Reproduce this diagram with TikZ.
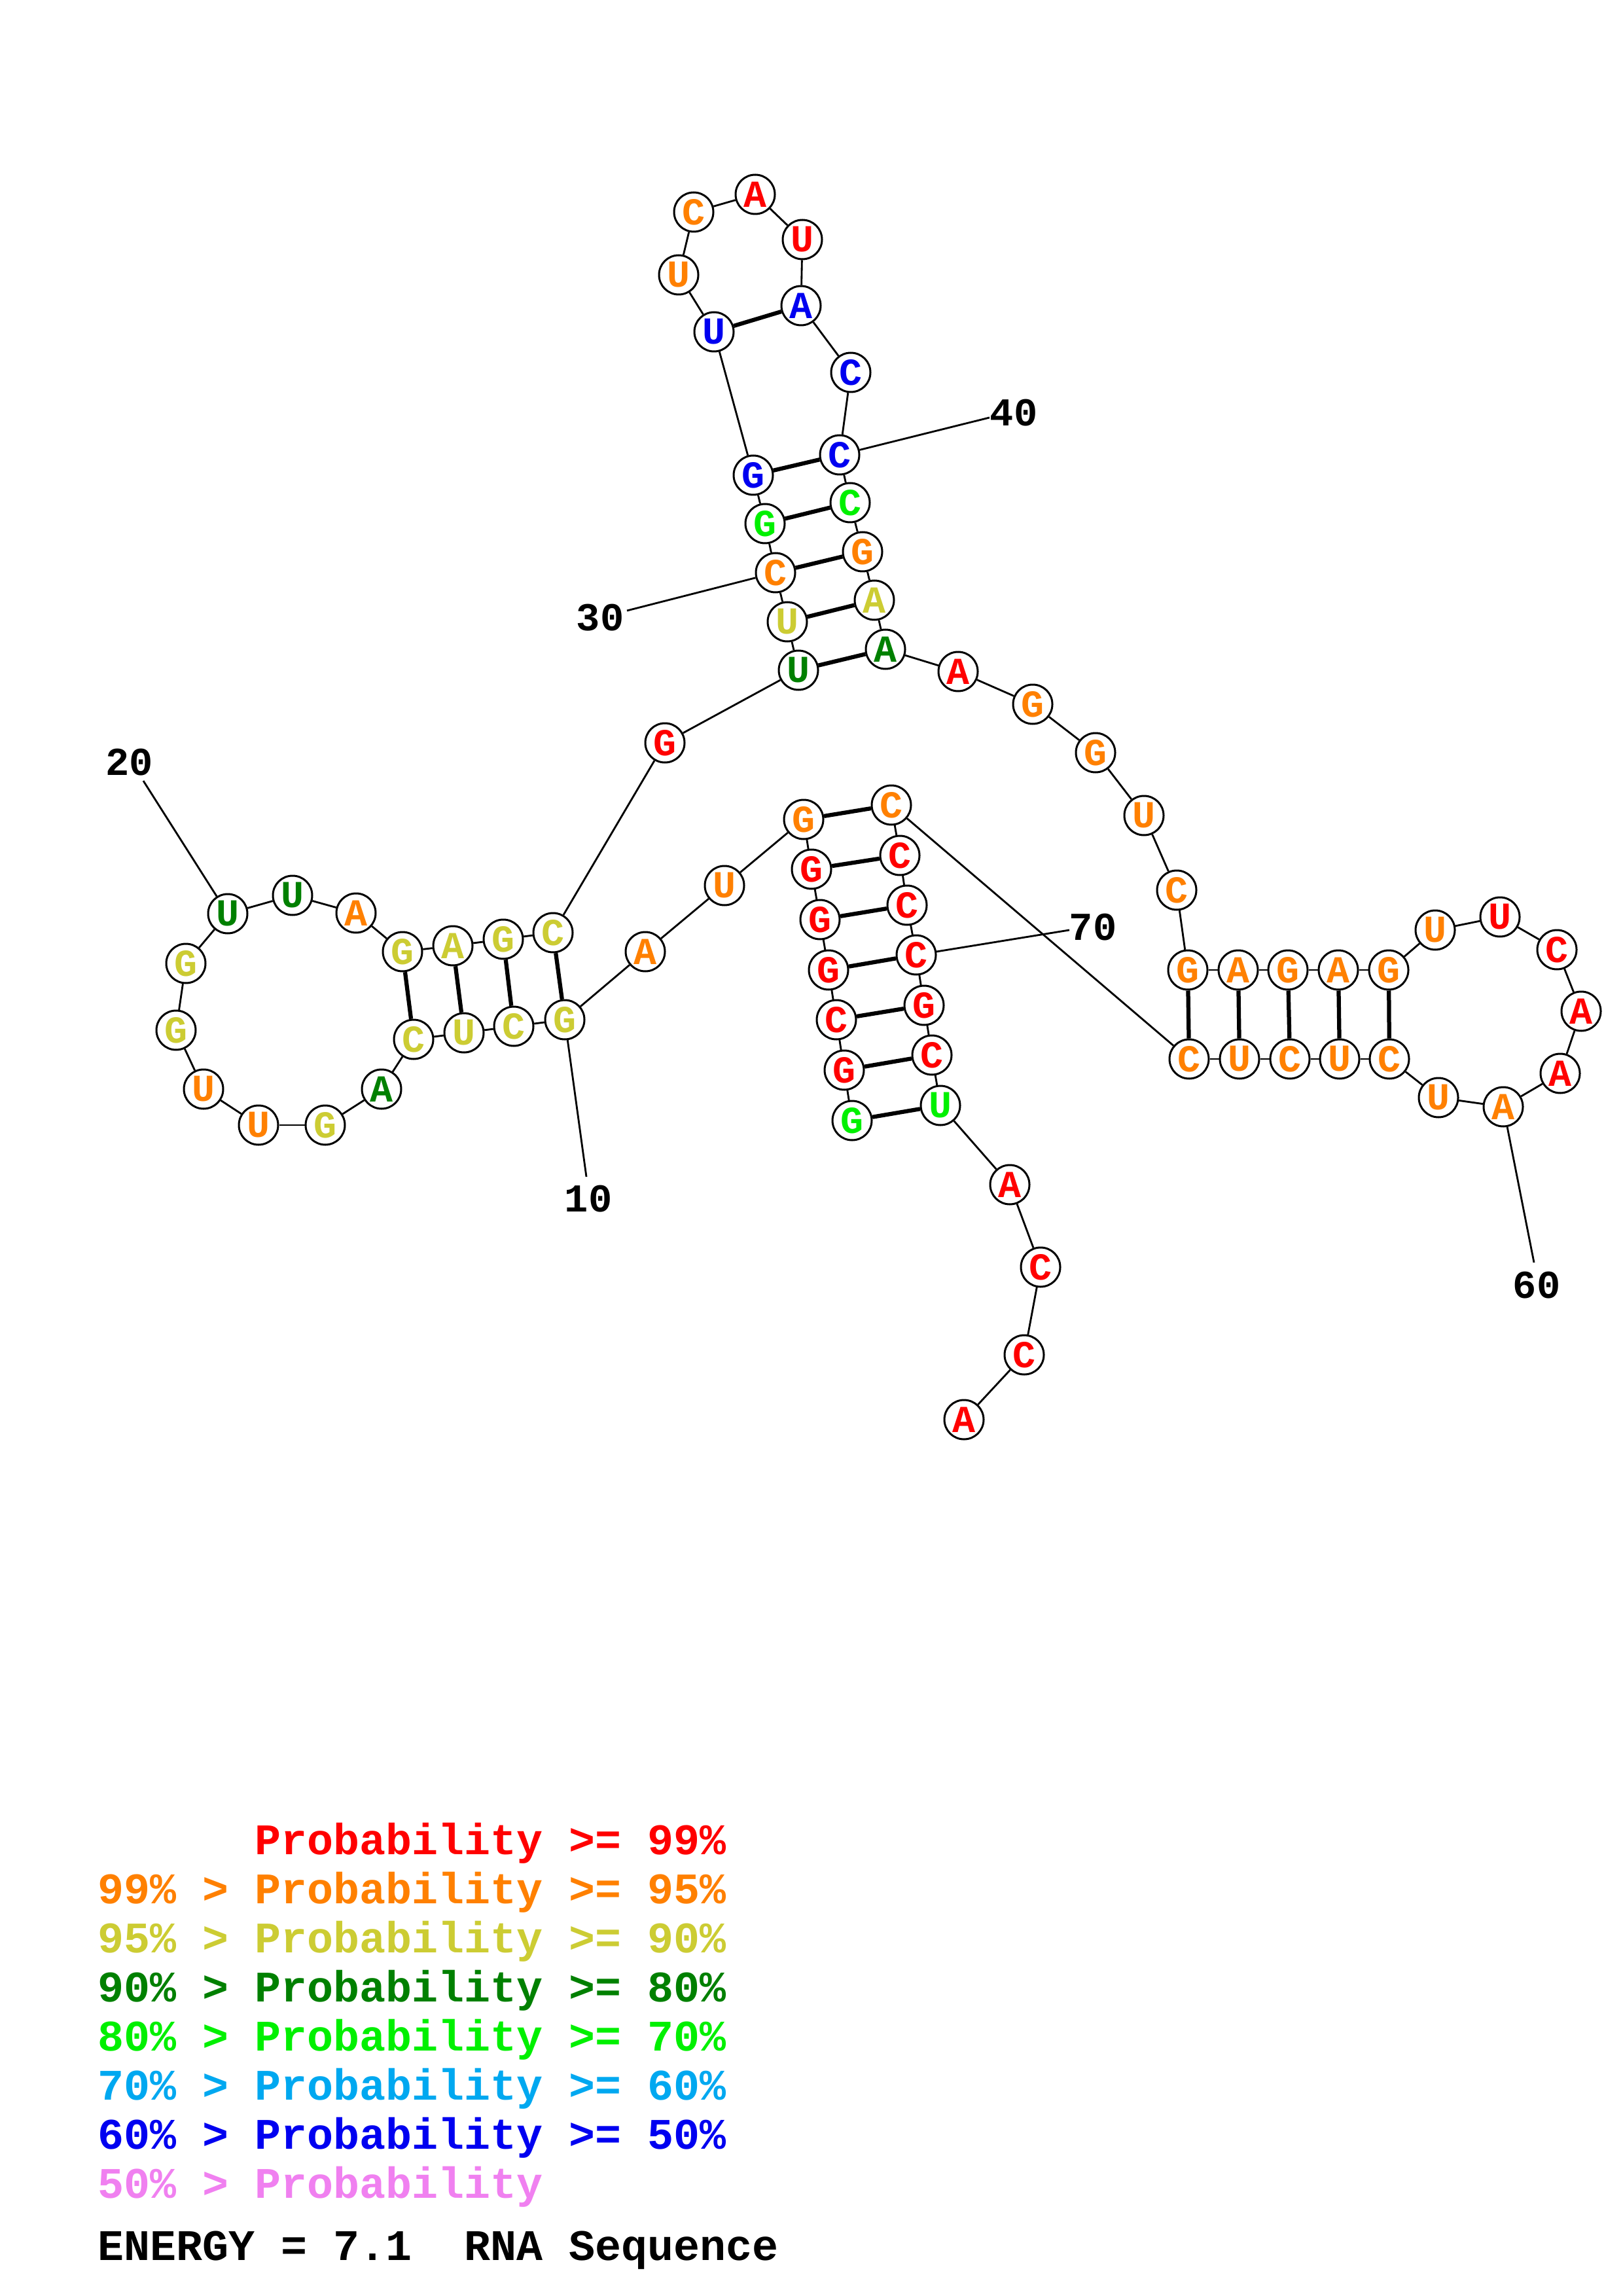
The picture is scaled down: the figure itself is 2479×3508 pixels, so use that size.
\documentclass[tikz,border=0pt]{standalone}
\usepackage{fontspec}
\setmonofont{Liberation Mono}
\definecolor{cr}{RGB}{255,0,0}
\definecolor{co}{RGB}{255,128,0}
\definecolor{cy}{RGB}{204,204,51}
\definecolor{cdg}{RGB}{0,128,0}
\definecolor{clg}{RGB}{0,240,0}
\definecolor{clb}{RGB}{0,168,240}
\definecolor{cb}{RGB}{0,0,240}
\definecolor{cp}{RGB}{240,128,240}
\newcommand\nuc[5]{\node[nt,text=#5] (n#1) at (#2,#3) {#4};}
\begin{document}
\begin{tikzpicture}[x=0.24pt,y=-0.24pt,
  nt/.style={circle,draw,line width=0.72pt,fill=white,minimum size=14.4pt,inner sep=0pt,font=\ttfamily\bfseries\fontsize{14}{14}\selectfont},
  bb/.style={line width=0.68pt},
  bond/.style={line width=1.5pt},
  num/.style={font=\ttfamily\bfseries\fontsize{14.5}{15}\selectfont,inner sep=0pt},
  leg/.style={anchor=base west,inner sep=0pt,font=\ttfamily\bfseries\fontsize{16}{16}\selectfont}]
\path[use as bounding box,fill=white] (0,0) rectangle (2479,3508);
\frenchspacing
% nucleotides
\nuc{1}{1302}{1712}{G}{clg}
\nuc{2}{1290}{1635}{G}{cr}
\nuc{3}{1278}{1558}{C}{cr}
\nuc{4}{1266}{1482}{G}{cr}
\nuc{5}{1253}{1405}{G}{cr}
\nuc{6}{1240}{1328}{G}{cr}
\nuc{7}{1228}{1252}{G}{co}
\nuc{8}{1107}{1353}{U}{co}
\nuc{9}{986}{1454}{A}{co}
\nuc{10}{863}{1558}{G}{cy}
\nuc{11}{785}{1568}{C}{cy}
\nuc{12}{709}{1578}{U}{cy}
\nuc{13}{632}{1588}{C}{cy}
\nuc{14}{583}{1664}{A}{cdg}
\nuc{15}{497}{1719}{G}{cy}
\nuc{16}{395}{1719}{U}{co}
\nuc{17}{311}{1664}{U}{co}
\nuc{18}{269}{1574}{G}{cy}
\nuc{19}{284}{1472}{G}{cy}
\nuc{20}{348}{1396}{U}{cdg}
\nuc{21}{447}{1368}{U}{cdg}
\nuc{22}{544}{1395}{A}{co}
\nuc{23}{615}{1454}{G}{cy}
\nuc{24}{692}{1445}{A}{cy}
\nuc{25}{769}{1435}{G}{cy}
\nuc{26}{845}{1425}{C}{cy}
\nuc{27}{1016}{1135}{G}{cr}
\nuc{28}{1220}{1024}{U}{cdg}
\nuc{29}{1203}{950}{U}{cy}
\nuc{30}{1185}{875}{C}{co}
\nuc{31}{1169}{800}{G}{clg}
\nuc{32}{1151}{726}{G}{cb}
\nuc{33}{1091}{507}{U}{cb}
\nuc{34}{1037}{420}{U}{co}
\nuc{35}{1060}{324}{C}{co}
\nuc{36}{1154}{297}{A}{cr}
\nuc{37}{1226}{366}{U}{cr}
\nuc{38}{1224}{467}{A}{cb}
\nuc{39}{1300}{569}{C}{cb}
\nuc{40}{1283}{695}{C}{cb}
\nuc{41}{1299}{768}{C}{clg}
\nuc{42}{1318}{843}{G}{co}
\nuc{43}{1336}{917}{A}{cy}
\nuc{44}{1353}{992}{A}{cdg}
\nuc{45}{1464}{1026}{A}{cr}
\nuc{46}{1578}{1076}{G}{co}
\nuc{47}{1674}{1150}{G}{co}
\nuc{48}{1748}{1246}{U}{co}
\nuc{49}{1798}{1360}{C}{co}
\nuc{50}{1815}{1482}{G}{co}
\nuc{51}{1892}{1482}{A}{co}
\nuc{52}{1968}{1482}{G}{co}
\nuc{53}{2045}{1482}{A}{co}
\nuc{54}{2122}{1482}{G}{co}
\nuc{55}{2193}{1421}{U}{co}
\nuc{56}{2292}{1401}{U}{cr}
\nuc{57}{2379}{1451}{C}{cr}
\nuc{58}{2416}{1545}{A}{cr}
\nuc{59}{2384}{1640}{A}{cr}
\nuc{60}{2297}{1691}{A}{co}
\nuc{61}{2198}{1677}{U}{co}
\nuc{62}{2123}{1618}{C}{co}
\nuc{63}{2047}{1618}{U}{co}
\nuc{64}{1971}{1618}{C}{co}
\nuc{65}{1894}{1618}{U}{co}
\nuc{66}{1817}{1618}{C}{co}
\nuc{67}{1362}{1230}{C}{co}
\nuc{68}{1375}{1307}{C}{cr}
\nuc{69}{1386}{1383}{C}{cr}
\nuc{70}{1400}{1459}{C}{cr}
\nuc{71}{1412}{1536}{G}{cr}
\nuc{72}{1424}{1612}{C}{cr}
\nuc{73}{1437}{1689}{U}{clg}
\nuc{74}{1543}{1810}{A}{cr}
\nuc{75}{1590}{1936}{C}{cr}
\nuc{76}{1565}{2070}{C}{cr}
\nuc{77}{1473}{2169}{A}{cr}
% backbone
\foreach \i in {1,...,76}{
  \pgfmathtruncatemacro\j{\i+1}
  \draw[bb] (n\i) -- (n\j);
}
% base pairs
\foreach \a/\b in {1/73,2/72,3/71,4/70,5/69,6/68,7/67,10/26,11/25,12/24,13/23,28/44,29/43,30/42,31/41,32/40,33/38,50/66,51/65,52/64,53/63,54/62}{
  \draw[bond] (n\a) -- (n\b);
}
% number labels
\coordinate (e10) at (896,1798);
\coordinate (e20) at (219,1193);
\coordinate (e30) at (958,933);
\coordinate (e40) at (1512,638);
\coordinate (e60) at (2344,1929);
\coordinate (e70) at (1634,1421);
\foreach \k in {10,20,30,40,60,70}{\draw[bb] (n\k) -- (e\k);}
\node[num] (l10) at (899,1832) {10};
\node[num] (l20) at (198,1165) {20};
\node[num] (l30) at (917,944) {30};
\node[num] (l40) at (1549,631) {40};
\node[num] (l60) at (2348,1964) {60};
\node[num] (l70) at (1670,1417) {70};
% legend
\node[leg,text=cr] (g1) at (389,2833) {Probability~>=~99\%};
\node[leg,text=co] (g2) at (149,2908) {99\%~>~Probability~>=~95\%};
\node[leg,text=cy] (g3) at (149,2983) {95\%~>~Probability~>=~90\%};
\node[leg,text=cdg] (g4) at (149,3058) {90\%~>~Probability~>=~80\%};
\node[leg,text=clg] (g5) at (149,3133) {80\%~>~Probability~>=~70\%};
\node[leg,text=clb] (g6) at (149,3208) {70\%~>~Probability~>=~60\%};
\node[leg,text=cb] (g7) at (149,3283) {60\%~>~Probability~>=~50\%};
\node[leg,text=cp] (g8) at (149,3358) {50\%~>~Probability};
\node[leg,text=black] (g9) at (149,3453) {ENERGY~=~7.1~~RNA~Sequence};
\end{tikzpicture}
\end{document}
